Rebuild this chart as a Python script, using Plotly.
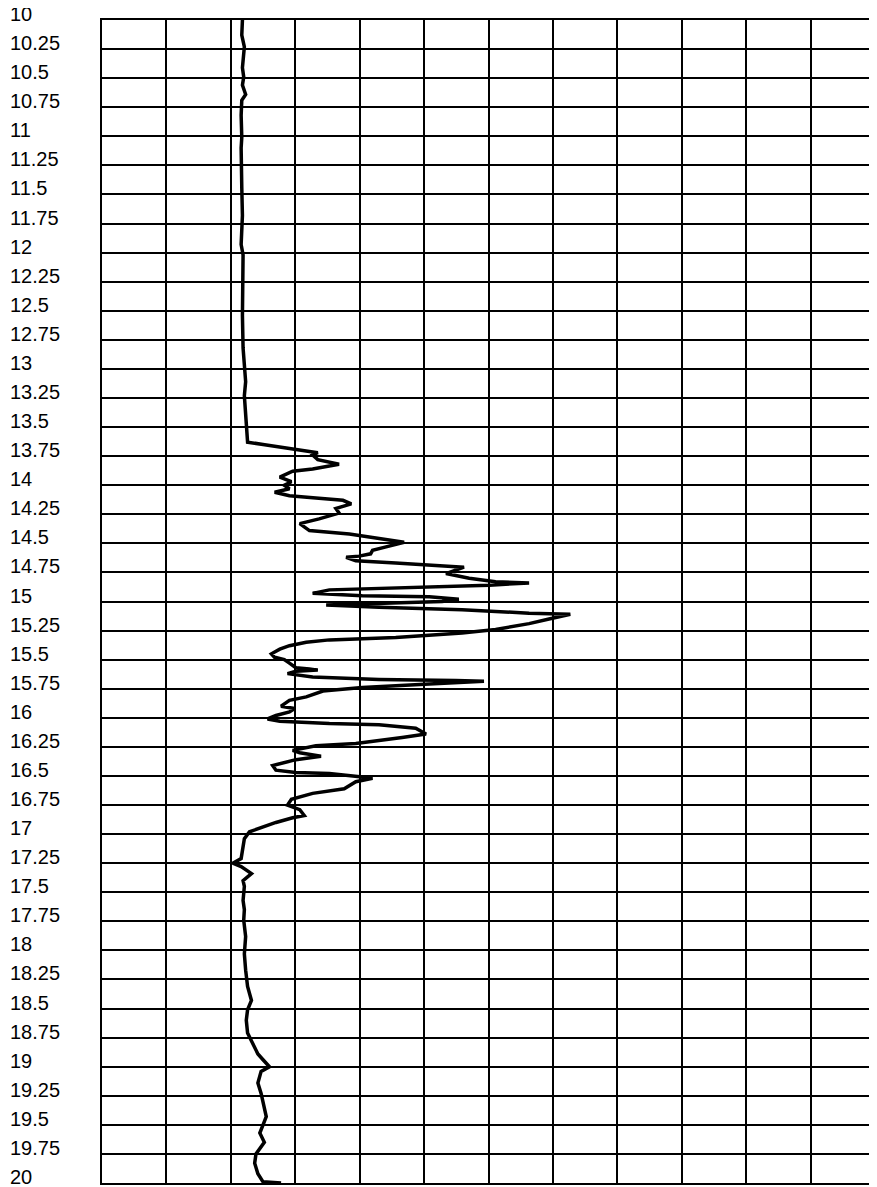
import plotly.graph_objects as go

# Depth (y, increasing downward) and log value (x)
depth = [
    10.00, 10.13, 10.23, 10.33, 10.41, 10.49, 10.56, 10.64, 10.69, 10.82,
    11.01, 11.10, 11.25, 11.44, 11.68, 11.93, 12.02, 12.25, 12.54, 12.82,
    12.99, 13.11, 13.23, 13.37, 13.48, 13.57, 13.63, 13.65, 13.68, 13.71,
    13.72, 13.74, 13.78, 13.82, 13.86, 13.88, 13.93, 13.97, 14.00, 14.03,
    14.06, 14.09, 14.11, 14.13, 14.16, 14.20, 14.24, 14.29, 14.33, 14.39,
    14.42, 14.46, 14.49, 14.53, 14.56, 14.59, 14.61, 14.62, 14.65, 14.67,
    14.70, 14.705, 14.76, 14.80, 14.83, 14.84, 14.86, 14.88, 14.90, 14.93,
    14.95, 14.96, 14.98, 15.00, 15.02, 15.03, 15.05, 15.07, 15.10, 15.11,
    15.15, 15.19, 15.24, 15.27, 15.31, 15.33, 15.35, 15.38, 15.41, 15.45,
    15.48, 15.50, 15.53, 15.57, 15.58, 15.59, 15.60, 15.62, 15.65, 15.67,
    15.68, 15.685, 15.71, 15.74, 15.77, 15.81, 15.82, 15.85, 15.90, 15.92,
    15.95, 15.98, 16.01, 16.03, 16.05, 16.06, 16.09, 16.14, 16.17, 16.22,
    16.24, 16.28, 16.30, 16.33, 16.36, 16.41, 16.45, 16.47, 16.48, 16.51,
    16.52, 16.55, 16.61, 16.65, 16.70, 16.75, 16.79, 16.84, 16.86, 16.90,
    16.94, 16.98, 17.04, 17.11, 17.21, 17.25, 17.28, 17.34, 17.40, 17.45,
    17.57, 17.65, 17.74, 17.88, 18.03, 18.17, 18.31, 18.43, 18.51, 18.60,
    18.71, 18.80, 18.89, 18.94, 19.00, 19.04, 19.14, 19.23, 19.32, 19.43,
    19.50, 19.57, 19.65, 19.75, 19.83, 19.92, 19.99, 20.00,
]
log_value = [
    21.8, 21.7, 22.1, 21.9, 21.8, 22.0, 21.8, 22.3, 21.7, 21.6,
    21.7, 21.6, 21.7, 21.7, 21.8, 21.6, 21.9, 21.8, 21.8, 21.9,
    22.1, 22.3, 22.1, 22.3, 22.5, 22.6, 22.6, 25.0, 29.1, 32.2,
    33.5, 32.7, 33.5, 36.8, 32.7, 29.6, 27.6, 29.4, 28.3, 29.1,
    26.8, 29.1, 33.2, 37.4, 38.7, 36.3, 36.8, 33.7, 30.7, 32.2,
    38.4, 43.0, 46.9, 44.1, 42.0, 41.7, 39.9, 37.9, 39.4, 45.6,
    53.4, 56.2, 53.4, 57.0, 61.1, 66.3, 60.1, 45.6, 35.3, 32.7,
    40.4, 50.8, 55.4, 52.8, 43.0, 34.8, 43.0, 55.9, 66.3, 72.7,
    69.4, 66.3, 61.1, 55.9, 45.6, 35.3, 31.7, 29.1, 27.6, 26.3,
    26.8, 28.3, 29.1, 30.1, 32.2, 33.5, 30.1, 28.8, 32.7, 43.0,
    54.9, 59.3, 50.8, 40.4, 34.3, 32.2, 31.7, 29.1, 27.8, 29.9,
    29.1, 27.0, 25.7, 27.6, 35.3, 43.0, 48.7, 50.3, 46.6, 39.4,
    33.2, 29.6, 30.7, 34.0, 30.1, 26.5, 27.0, 30.1, 35.3, 40.4,
    42.0, 39.4, 37.6, 32.7, 29.4, 28.8, 30.7, 31.4, 29.6, 27.0,
    25.0, 22.9, 22.1, 21.9, 21.6, 20.3, 21.6, 23.2, 21.9, 22.1,
    21.9, 22.1, 22.0, 22.3, 22.1, 22.3, 22.6, 23.2, 22.6, 22.4,
    22.6, 23.4, 24.2, 25.0, 26.0, 24.7, 24.2, 24.7, 25.0, 25.5,
    25.0, 24.5, 25.2, 23.9, 23.7, 24.2, 25.0, 27.8,
]

depth_ticks = [10 + 0.25 * i for i in range(41)]
depth_labels = [("%g" % t) for t in depth_ticks]

x_range = [0, 120]
x_grid_step = 10

fig = go.Figure()
fig.add_trace(go.Scatter(
    x=log_value, y=depth, mode="lines",
    line=dict(color="black", width=3.5),
    showlegend=False, hoverinfo="skip",
))

for t, lab in zip(depth_ticks, depth_labels):
    fig.add_annotation(
        x=-0.122, xref="paper", y=t, yref="y",
        text=lab, showarrow=False, xanchor="left", yanchor="middle",
        yshift=6, font=dict(family="Liberation Sans, Arial", size=20, color="black"),
    )

fig.update_layout(
    width=869, height=1179,
    margin=dict(l=94, r=0, t=12, b=4),
    paper_bgcolor="white", plot_bgcolor="white",
    xaxis=dict(
        range=x_range, dtick=x_grid_step, tick0=0,
        showgrid=True, gridcolor="black", gridwidth=2,
        showticklabels=False, ticks="", zeroline=False,
        showline=True, linecolor="black", linewidth=2, mirror=True,
    ),
    yaxis=dict(
        range=[20, 10], tickvals=depth_ticks,
        showgrid=True, gridcolor="black", gridwidth=2,
        showticklabels=False, ticks="", zeroline=False,
        showline=True, linecolor="black", linewidth=2, mirror=True,
    ),
)

fig.write_html("out.html")
